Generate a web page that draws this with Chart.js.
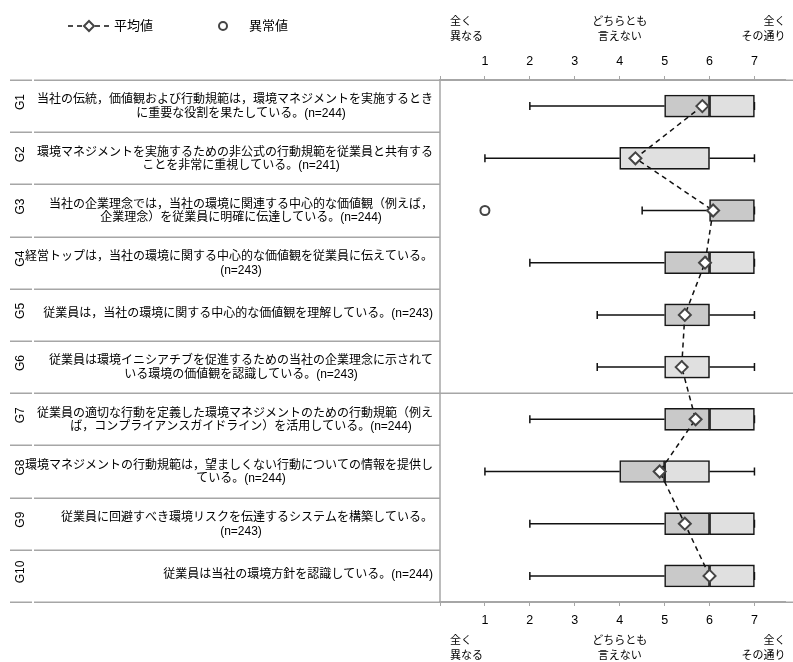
<!DOCTYPE html>
<html>
<head>
<meta charset="utf-8">
<script src="https://cdn.jsdelivr.net/npm/chart.js@4.4.1/dist/chart.umd.min.js"></script>
<style>
  html, body { margin: 0; padding: 0; background: #ffffff; }
  #wrap { width: 793px; height: 662px; }
</style>
</head>
<body>
<div id="wrap"><canvas id="chart" width="793" height="662"></canvas></div>
<script>
// Survey items (rows, top to bottom)
const codes = ['G1', 'G2', 'G3', 'G4', 'G5', 'G6', 'G7', 'G8', 'G9', 'G10'];
const statements = [
  ['当社の伝統，価値観および行動規範は，環境マネジメントを実施するとき', 'に重要な役割を果たしている。(n=244)'],
  ['環境マネジメントを実施するための非公式の行動規範を従業員と共有する', 'ことを非常に重視している。(n=241)'],
  ['当社の企業理念では，当社の環境に関連する中心的な価値観（例えば，', '企業理念）を従業員に明確に伝達している。(n=244)'],
  ['経営トップは，当社の環境に関する中心的な価値観を従業員に伝えている。', '(n=243)'],
  ['従業員は，当社の環境に関する中心的な価値観を理解している。(n=243)'],
  ['従業員は環境イニシアチブを促進するための当社の企業理念に示されて', 'いる環境の価値観を認識している。(n=243)'],
  ['従業員の適切な行動を定義した環境マネジメントのための行動規範（例え', 'ば，コンプライアンスガイドライン）を活用している。(n=244)'],
  ['環境マネジメントの行動規範は，望ましくない行動についての情報を提供し', 'ている。(n=244)'],
  ['従業員に回避すべき環境リスクを伝達するシステムを構築している。', '(n=243)'],
  ['従業員は当社の環境方針を認識している。(n=244)']
];

// Box-plot statistics on the 1–7 agreement scale
const whiskerLow  = [2, 1, 4.5, 2, 3.5, 3.5, 2, 1, 2, 2];
const q1          = [5, 4, 6,   5, 5,   5,   5, 4, 5, 5];
const median      = [6, 4, 7,   6, 6,   5,   6, 5, 6, 6];
const q3          = [7, 6, 7,   7, 6,   6,   7, 6, 7, 7];
const whiskerHigh = [7, 7, 7,   7, 7,   7,   7, 7, 7, 7];
const means       = [5.84, 4.35, 6.08, 5.9, 5.45, 5.38, 5.69, 4.89, 5.45, 6.0];
const outliers    = [null, null, 1, null, null, null, null, null, null, null];

// Scale ticks and anchor captions
const scaleTicks = [1, 2, 3, 4, 5, 6, 7];
const anchorValues = [1, 4, 7];
const anchorText = [['全く', '異なる'], ['どちらとも', '言えない'], ['全く', 'その通り']];
const legendLabels = ['平均値', '異常値'];
// rows after which a full-width divider is drawn
const groupBreaks = [6];

const FONT_LATIN = '"Liberation Sans", Arial, sans-serif';
const FONT_JP = '"Liberation Sans", "Noto Sans CJK JP", sans-serif';
const GRID = '#a6a6a6';

const axisCommon = {
  type: 'linear',
  bounds: 'data',
  min: 0,
  max: 7.68,
  grid: { drawOnChartArea: false, drawTicks: true, tickLength: 4, color: GRID, lineWidth: 1 },
  border: { display: true, color: GRID, width: 1.5 },
  ticks: {
    stepSize: 1,
    includeBounds: false,
    autoSkip: false,
    maxRotation: 0,
    padding: 7,
    color: '#000',
    font: { family: FONT_LATIN, size: 12.5 },
    callback: v => scaleTicks.includes(v) ? String(v) : ''
  }
};

// fixed axis band heights
function fitAxis(height) {
  return s => { s.height = height; };
}

const decor = {
  id: 'decor',
  beforeDatasetsDraw(chart) {
    const { ctx, scales: { x, y } } = chart;
    ctx.save();
    ctx.strokeStyle = '#111';
    ctx.lineWidth = 1.5;
    codes.forEach((c, i) => {
      const yc = y.getPixelForValue(i);
      const lo = x.getPixelForValue(whiskerLow[i]);
      const a = x.getPixelForValue(q1[i]);
      const b = x.getPixelForValue(q3[i]);
      const hi = x.getPixelForValue(whiskerHigh[i]);
      ctx.beginPath();
      ctx.moveTo(lo, yc); ctx.lineTo(a, yc);
      ctx.moveTo(b, yc); ctx.lineTo(hi, yc);
      ctx.moveTo(lo, yc - 4); ctx.lineTo(lo, yc + 4);
      ctx.moveTo(hi, yc - 4); ctx.lineTo(hi, yc + 4);
      ctx.stroke();
    });
    ctx.restore();
  },
  afterDraw(chart) {
    const { ctx, chartArea: area, scales: { x, y } } = chart;
    const band = (area.bottom - area.top) / codes.length;
    ctx.save();

    // row dividers in the label column, plus full-width group dividers
    ctx.strokeStyle = GRID;
    ctx.lineWidth = 1.5;
    for (let k = 0; k <= codes.length; k++) {
      const yy = Math.round(area.top + k * band) + 0.25;
      ctx.beginPath();
      ctx.moveTo(10, yy); ctx.lineTo(32, yy);
      ctx.moveTo(34, yy);
      const full = k === 0 || k === codes.length || groupBreaks.includes(k);
      ctx.lineTo(full ? chart.width : area.left, yy);
      ctx.stroke();
    }
    // left frame of the plot
    ctx.beginPath();
    ctx.moveTo(area.left, area.top);
    ctx.lineTo(area.left, area.bottom);
    ctx.stroke();

    // row codes (rotated) and statements
    ctx.fillStyle = '#000';
    codes.forEach((c, i) => {
      const yc = y.getPixelForValue(i);
      ctx.save();
      ctx.translate(21, yc - 4);
      ctx.rotate(-Math.PI / 2);
      ctx.font = '12px ' + FONT_LATIN;
      ctx.textAlign = 'center';
      ctx.textBaseline = 'middle';
      ctx.fillText(c, 0, 0);
      ctx.restore();

      ctx.font = '12px ' + FONT_JP;
      ctx.textBaseline = 'middle';
      const lines = statements[i];
      if (lines.length === 1) {
        ctx.textAlign = 'right';
        ctx.fillText(lines[0], 433, yc - 1);
      } else {
        ctx.textAlign = 'right';
        ctx.fillText(lines[0], 433, yc - 6);
        ctx.textAlign = 'center';
        ctx.fillText(lines[1], 241, yc + 7.5);
      }
    });

    // anchor captions above and below the scale
    ctx.font = '11px ' + FONT_JP;
    ctx.textBaseline = 'middle';
    const aligns = ['left', 'center', 'right'];
    const offsets = [-35, 0, 31];
    anchorValues.forEach((v, j) => {
      const px = x.getPixelForValue(v) + offsets[j];
      ctx.textAlign = aligns[j];
      [[22, 37], [641, 656]].forEach(ys => {
        ctx.fillText(anchorText[j][0], px, ys[0]);
        ctx.fillText(anchorText[j][1], px, ys[1]);
      });
    });

    // legend
    ctx.strokeStyle = '#111';
    ctx.lineWidth = 1.5;
    ctx.setLineDash([5, 4]);
    ctx.beginPath();
    ctx.moveTo(68, 26); ctx.lineTo(110, 26);
    ctx.stroke();
    ctx.setLineDash([]);
    ctx.fillStyle = '#fff';
    ctx.strokeStyle = '#444';
    ctx.lineWidth = 2;
    ctx.beginPath();
    ctx.moveTo(89, 21); ctx.lineTo(94, 26); ctx.lineTo(89, 31); ctx.lineTo(84, 26); ctx.closePath();
    ctx.fill(); ctx.stroke();
    ctx.beginPath();
    ctx.arc(223, 26, 4, 0, Math.PI * 2);
    ctx.fill(); ctx.stroke();
    ctx.fillStyle = '#000';
    ctx.font = '13px ' + FONT_JP;
    ctx.textAlign = 'left';
    ctx.fillText(legendLabels[0], 114, 26);
    ctx.fillText(legendLabels[1], 249, 26);

    ctx.restore();
  }
};

new Chart(document.getElementById('chart'), {
  data: {
    labels: codes,
    datasets: [
      {
        type: 'bar', label: 'Q1-median', indexAxis: 'y', xAxisID: 'x',
        data: codes.map((c, i) => [q1[i], median[i]]),
        backgroundColor: '#c9c9c9', borderColor: '#161616', borderWidth: 1.6,
        borderSkipped: false, barThickness: 22, grouped: false, order: 3
      },
      {
        type: 'bar', label: 'median-Q3', indexAxis: 'y', xAxisID: 'x',
        data: codes.map((c, i) => [median[i], q3[i]]),
        backgroundColor: '#e0e0e0', borderColor: '#161616', borderWidth: 1.6,
        borderSkipped: false, barThickness: 22, grouped: false, order: 3
      },
      {
        type: 'line', label: legendLabels[0], indexAxis: 'y', xAxisID: 'x',
        data: means,
        borderColor: '#111', borderWidth: 1.5, borderDash: [5, 4],
        pointStyle: 'rectRot', pointRadius: 6, pointBackgroundColor: '#fff',
        pointBorderColor: '#444', pointBorderWidth: 2, tension: 0, order: 1
      },
      {
        type: 'line', label: legendLabels[1], indexAxis: 'y', xAxisID: 'x',
        data: outliers, showLine: false, spanGaps: false,
        pointStyle: 'circle', pointRadius: 4.5, pointBackgroundColor: '#fff',
        pointBorderColor: '#444', pointBorderWidth: 2, order: 0
      }
    ]
  },
  options: {
    indexAxis: 'y',
    responsive: false,
    animation: false,
    devicePixelRatio: 1,
    events: [],
    layout: { padding: { left: 440, right: 1, top: 0, bottom: 0 } },
    plugins: { legend: { display: false }, tooltip: { enabled: false } },
    scales: {
      y: { type: 'category', display: false, offset: true },
      xTop: Object.assign({}, axisCommon, { position: 'top', afterFit: fitAxis(80) }),
      x: Object.assign({}, axisCommon, { position: 'bottom', afterFit: fitAxis(60) })
    }
  },
  plugins: [decor]
});
</script>
</body>
</html>
